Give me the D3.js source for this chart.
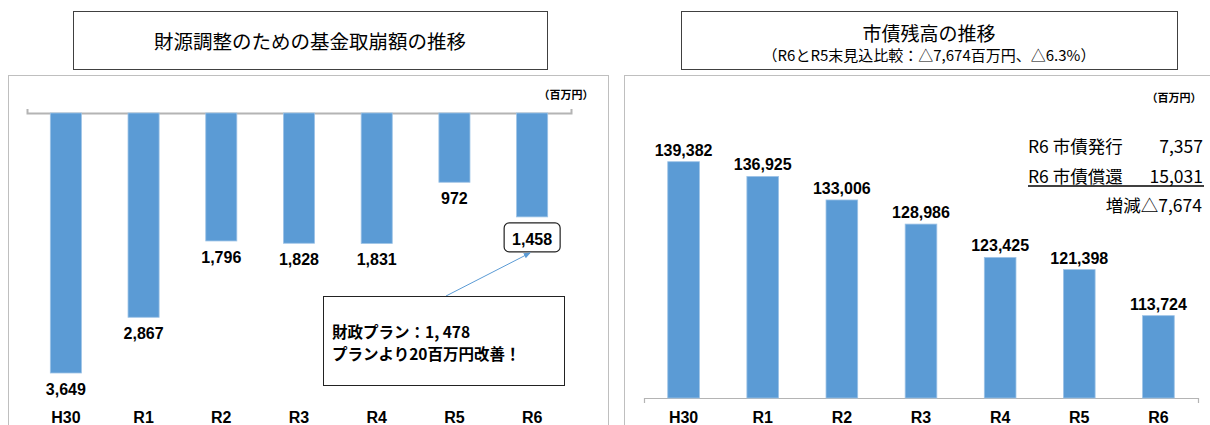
<!DOCTYPE html>
<html>
<head>
<meta charset="utf-8">
<script src="https://cdn.jsdelivr.net/npm/d3@7"></script>
<style>
  body { margin: 0; background: #fff; }
  svg { display: block; }
</style>
</head>
<body>
<div id="chart"></div>
<script>
// data
const years = ["H30", "R1", "R2", "R3", "R4", "R5", "R6"];
const fundDraw = [3649, 2867, 1796, 1828, 1831, 972, 1458];
const bondBalance = [139382, 136925, 133006, 128986, 123425, 121398, 113724];
const fundTitle = "財源調整のための基金取崩額の推移";
const bondTitle = "市債残高の推移";
const bondSubtitle = "（R6とR5末見込比較：△7,674百万円、△6.3%）";
const unitLabel = "（百万円）";
const planNote = ["財政プラン：1, 478", "プランより20百万円改善！"];
const bondNote = [["R6 市債発行", "7,357"], ["R6 市債償還", "15,031"]];
const bondDiff = "増減△7,674";

const barColor = "#5b9bd5";
const barEdge = "#9dc3e6";
const numFont = "'Liberation Sans', Arial, sans-serif";
const jpFont = "'Noto Sans CJK JP', sans-serif";

const svg = d3.select("#chart").append("svg")
  .attr("width", 1210)
  .attr("height", 425);

const fmt = d3.format(",");

// ---------- left chart: fund drawdown ----------
let left = svg.append("g");

left.append("rect")
  .attr("x", 73.5).attr("y", 11.5)
  .attr("width", 474).attr("height", 58)
  .attr("fill", "none").attr("stroke", "#404040");
left.append("text")
  .attr("x", 310).attr("y", 40)
  .attr("text-anchor", "middle")
  .attr("dominant-baseline", "central")
  .style("font-family", jpFont).style("font-size", "19.5px")
  .text(fundTitle);

left.append("rect")
  .attr("x", 8.5).attr("y", 75.5)
  .attr("width", 600).attr("height", 360)
  .attr("fill", "none").attr("stroke", "#bfbfbf");

left.append("text")
  .attr("x", 566).attr("y", 94)
  .attr("text-anchor", "middle")
  .attr("dominant-baseline", "central")
  .style("font-family", jpFont).style("font-size", "11px").style("font-weight", "bold")
  .text(unitLabel);

let xLeft = d3.scaleBand().domain(years).range([27, 571]).paddingInner(0.6).paddingOuter(0.3);
let yLeft = d3.scaleLinear().domain([0, 4000]).range([113, 398]);

let leftAxis = left.append("g")
  .attr("transform", "translate(0,113)")
  .call(d3.axisTop(xLeft).tickSizeInner(0).tickSizeOuter(4).tickFormat(""));
leftAxis.select(".domain").attr("stroke", "#b4b4b4").attr("stroke-width", 2);

left.selectAll(".bar")
  .data(fundDraw)
  .join("rect")
  .attr("class", "bar")
  .attr("x", (d, i) => xLeft(years[i]))
  .attr("y", yLeft(0))
  .attr("width", xLeft.bandwidth())
  .attr("height", d => yLeft(d) - yLeft(0))
  .attr("fill", barColor)
  .attr("stroke", barEdge).attr("stroke-width", 0.8);

left.selectAll(".val")
  .data(fundDraw)
  .join("text")
  .attr("class", "val")
  .attr("x", (d, i) => xLeft(years[i]) + xLeft.bandwidth() / 2)
  .attr("y", (d, i) => i === 6 ? yLeft(d) + 28 : yLeft(d) + 22)
  .attr("text-anchor", "middle")
  .style("font-family", numFont).style("font-size", "16px").style("font-weight", "bold")
  .text(d => fmt(d));

// rounded box round the R6 value
let r6x = xLeft("R6") + xLeft.bandwidth() / 2;
left.append("rect")
  .attr("x", r6x - 28).attr("y", yLeft(fundDraw[6]) + 6)
  .attr("width", 56).attr("height", 29).attr("rx", 5)
  .attr("fill", "none").attr("stroke", "#222").attr("stroke-width", 1.2);

left.selectAll(".xlab")
  .data(years)
  .join("text")
  .attr("class", "xlab")
  .attr("x", d => xLeft(d) + xLeft.bandwidth() / 2)
  .attr("y", 423)
  .attr("text-anchor", "middle")
  .style("font-family", numFont).style("font-size", "16px").style("font-weight", "bold")
  .text(d => d);

// callout
svg.append("defs").append("marker")
  .attr("id", "arrow")
  .attr("viewBox", "0 0 10 10")
  .attr("refX", 9).attr("refY", 5)
  .attr("markerWidth", 7).attr("markerHeight", 7)
  .attr("orient", "auto")
  .append("path")
  .attr("d", "M0,1L10,5L0,9z")
  .attr("fill", barColor);

left.append("line")
  .attr("x1", 446).attr("y1", 296)
  .attr("x2", r6x - 2).attr("y2", yLeft(fundDraw[6]) + 36)
  .attr("stroke", barColor).attr("stroke-width", 1)
  .attr("marker-end", "url(#arrow)");

left.append("rect")
  .attr("x", 323.5).attr("y", 296.5)
  .attr("width", 241).attr("height", 89)
  .attr("fill", "#fff").attr("stroke", "#222");
left.selectAll(".note")
  .data(planNote)
  .join("text")
  .attr("class", "note")
  .attr("x", 332)
  .attr("y", (d, i) => 331 + i * 22)
  .attr("dominant-baseline", "central")
  .style("font-family", jpFont).style("font-size", "15.5px").style("font-weight", "bold")
  .text(d => d);

// ---------- right chart: bond balance ----------
let right = svg.append("g");

right.append("rect")
  .attr("x", 681.5).attr("y", 11.5)
  .attr("width", 496).attr("height", 58)
  .attr("fill", "none").attr("stroke", "#404040");
right.append("text")
  .attr("x", 929).attr("y", 32)
  .attr("text-anchor", "middle")
  .attr("dominant-baseline", "central")
  .style("font-family", jpFont).style("font-size", "19px")
  .text(bondTitle);
right.append("text")
  .attr("x", 929).attr("y", 54)
  .attr("text-anchor", "middle")
  .attr("dominant-baseline", "central")
  .style("font-family", jpFont).style("font-size", "15px")
  .text(bondSubtitle);

right.append("rect")
  .attr("x", 624.5).attr("y", 75.5)
  .attr("width", 600).attr("height", 360)
  .attr("fill", "none").attr("stroke", "#bfbfbf");

right.append("text")
  .attr("x", 1174).attr("y", 97)
  .attr("text-anchor", "middle")
  .attr("dominant-baseline", "central")
  .style("font-family", jpFont).style("font-size", "11px").style("font-weight", "bold")
  .text(unitLabel);

let xRight = d3.scaleBand().domain(years).range([644, 1198]).paddingInner(0.6).paddingOuter(0.3);
let yRight = d3.scaleLinear().domain([100000, 150000]).range([398, 98]);

let rightAxis = right.append("g")
  .attr("transform", "translate(0,398)")
  .call(d3.axisBottom(xRight).tickSizeInner(0).tickSizeOuter(5).tickFormat(""));
rightAxis.select(".domain").attr("stroke", "#b4b4b4").attr("stroke-width", 1.2);

right.selectAll(".bar")
  .data(bondBalance)
  .join("rect")
  .attr("class", "bar")
  .attr("x", (d, i) => xRight(years[i]))
  .attr("y", d => yRight(d))
  .attr("width", xRight.bandwidth())
  .attr("height", d => yRight(100000) - yRight(d))
  .attr("fill", barColor)
  .attr("stroke", barEdge).attr("stroke-width", 0.8);

right.selectAll(".val")
  .data(bondBalance)
  .join("text")
  .attr("class", "val")
  .attr("x", (d, i) => xRight(years[i]) + xRight.bandwidth() / 2)
  .attr("y", d => yRight(d) - 6)
  .attr("text-anchor", "middle")
  .style("font-family", numFont).style("font-size", "16px").style("font-weight", "bold")
  .text(d => fmt(d));

right.selectAll(".xlab")
  .data(years)
  .join("text")
  .attr("class", "xlab")
  .attr("x", d => xRight(d) + xRight.bandwidth() / 2)
  .attr("y", 423)
  .attr("text-anchor", "middle")
  .style("font-family", numFont).style("font-size", "16px").style("font-weight", "bold")
  .text(d => d);

// issuance / redemption note
bondNote.forEach((row, i) => {
  right.append("text")
    .attr("x", 1028).attr("y", 145 + i * 30)
    .attr("dominant-baseline", "central")
    .style("font-family", jpFont).style("font-size", "17.5px")
    .text(row[0]);
  right.append("text")
    .attr("x", 1203).attr("y", 145 + i * 30)
    .attr("text-anchor", "end")
    .attr("dominant-baseline", "central")
    .style("font-family", jpFont).style("font-size", "17.5px")
    .text(row[1]);
});
right.append("line")
  .attr("x1", 1028).attr("x2", 1204)
  .attr("y1", 186).attr("y2", 186)
  .attr("stroke", "#000").attr("stroke-width", 1.5);
right.append("text")
  .attr("x", 1202).attr("y", 204)
  .attr("text-anchor", "end")
  .attr("dominant-baseline", "central")
  .style("font-family", jpFont).style("font-size", "17.5px")
  .text(bondDiff);
</script>
</body>
</html>
